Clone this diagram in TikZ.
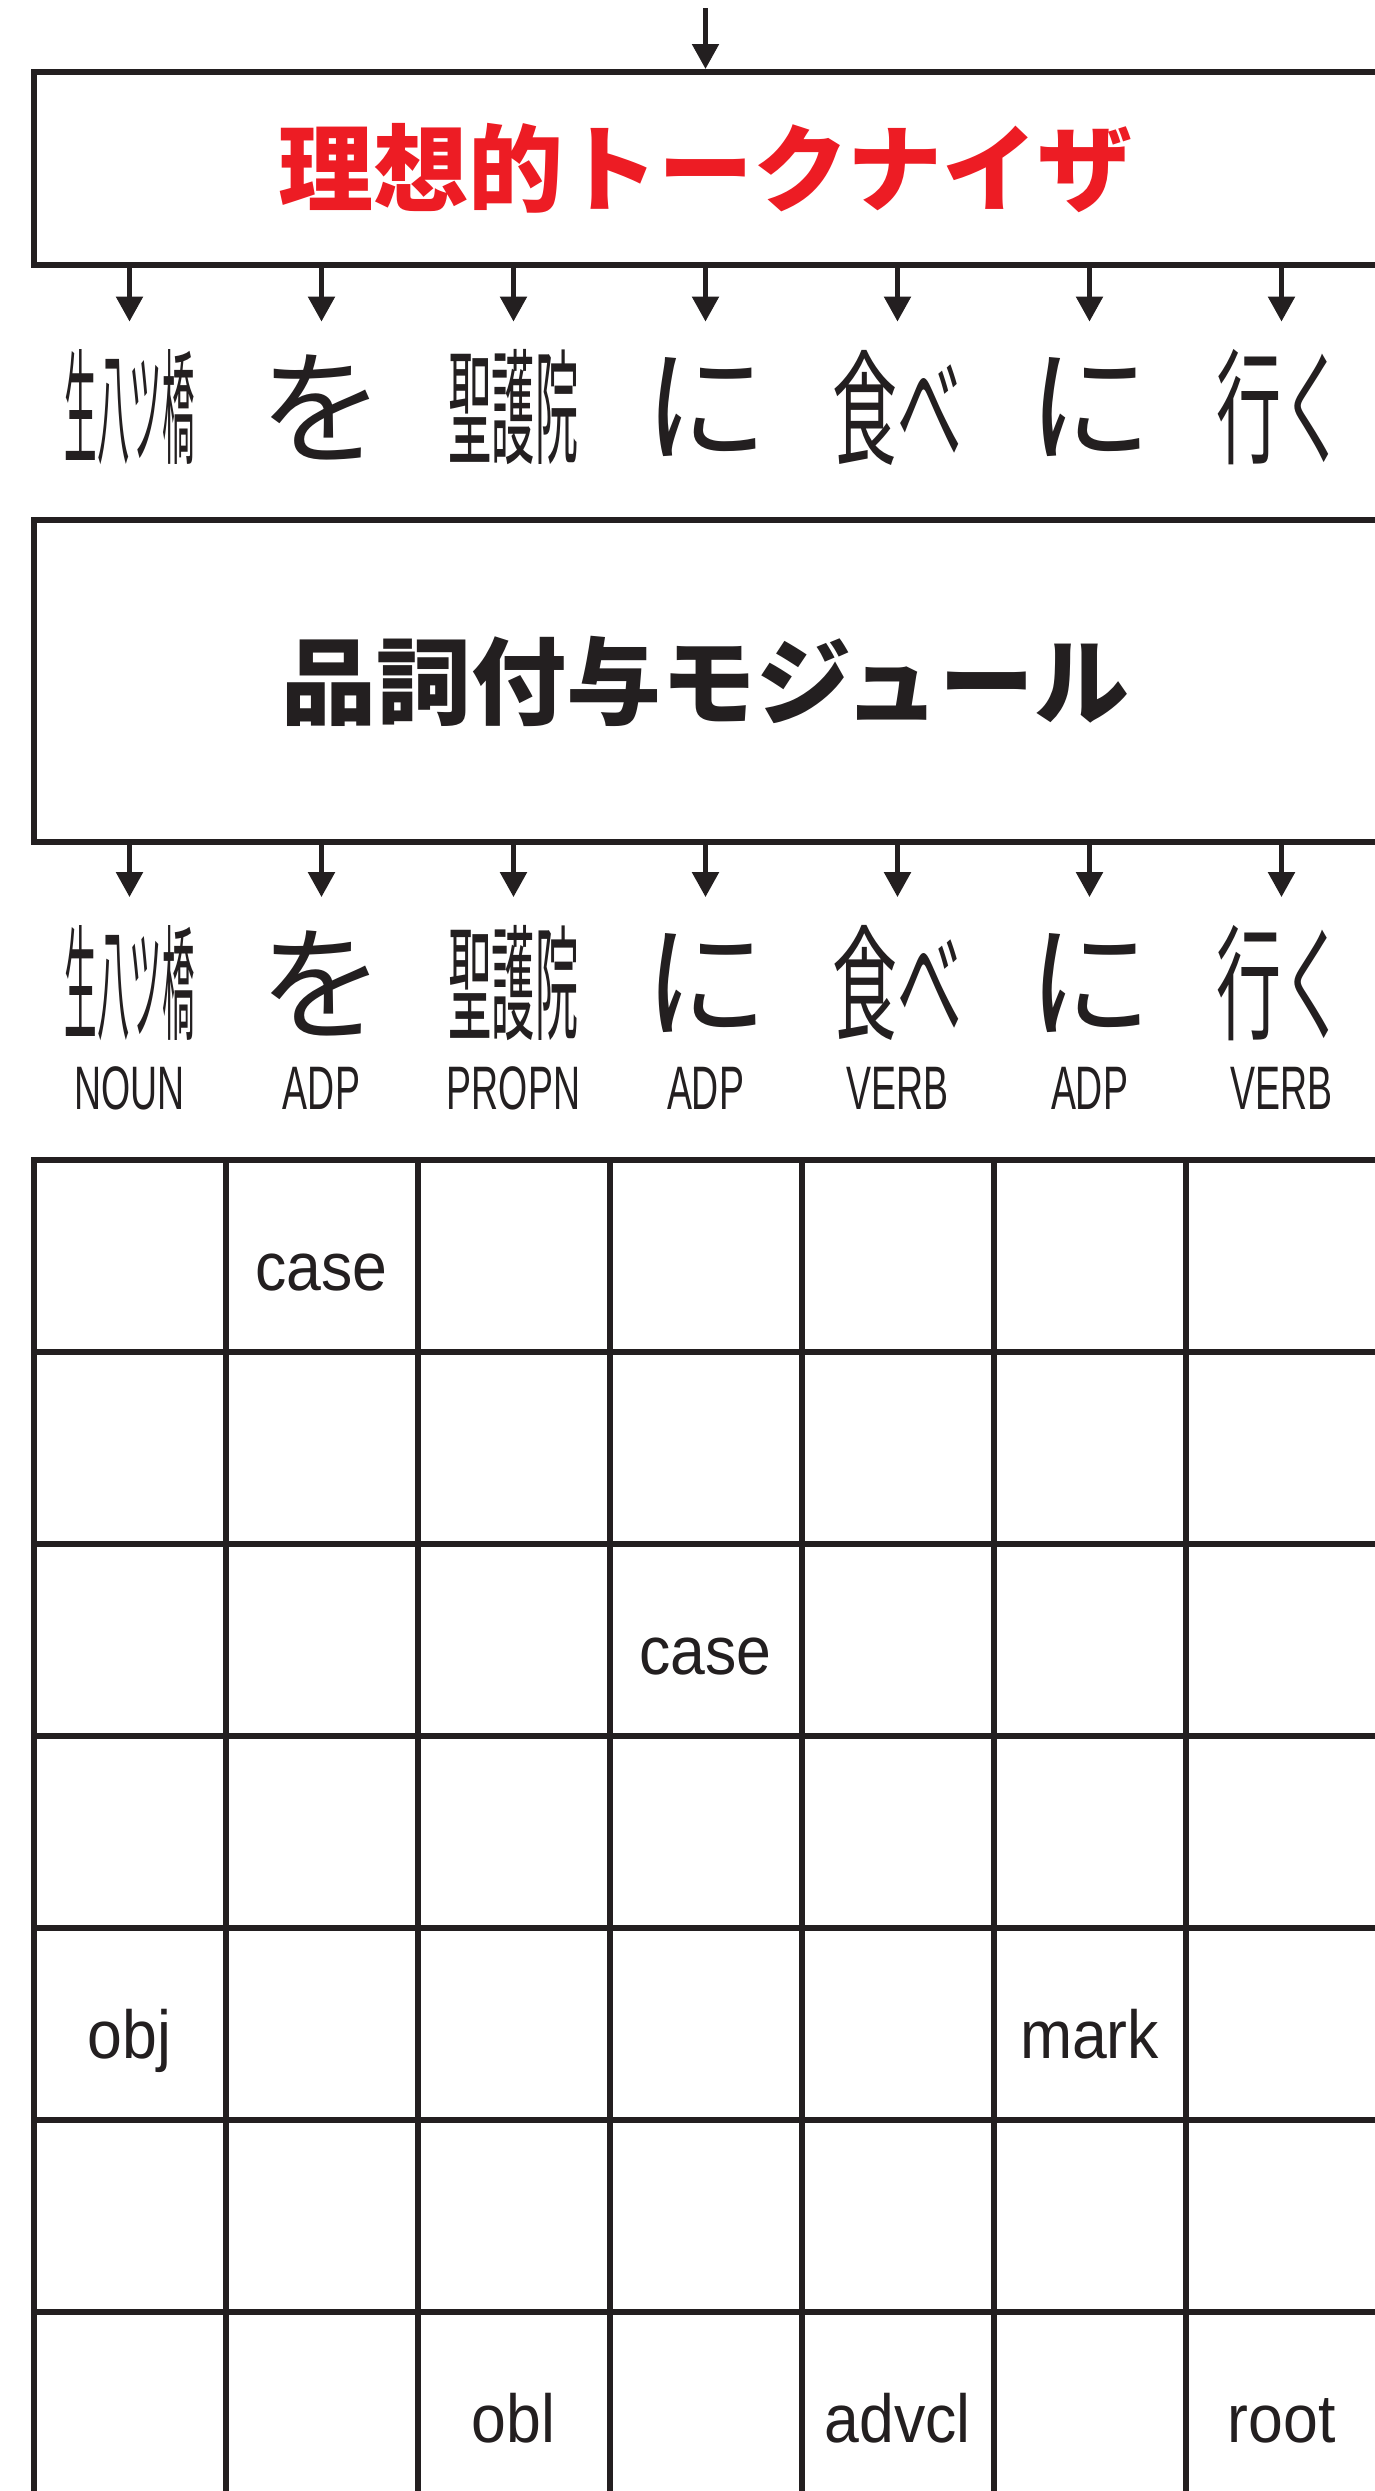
\documentclass[tikz,border=0pt]{standalone}
\usepackage{fontspec}
\usepackage{graphicx}
\usetikzlibrary{arrows.meta}
\setmainfont{Liberation Sans}
\newfontfamily\cjk{Noto Sans CJK JP}
\definecolor{ink}{HTML}{231F20}
\definecolor{titlered}{HTML}{ED1C24}
\newcommand{\sq}[1]{\resizebox{65pt}{\height}{#1}}
\begin{document}
\begin{tikzpicture}[x=0.5pt,y=-0.5pt]
\tikzset{
 box/.style={draw=ink, line width=3pt, minimum width=672pt, inner sep=0pt},
 arr/.style={draw=ink, line width=2.6pt, -{Triangle[length=12.5pt,width=13pt]}},
 tokn/.style={inner sep=0pt, minimum height=85.5pt, text=ink, font=\cjk\fontsize{62.5pt}{70pt}\selectfont},
 posn/.style={inner sep=0pt, anchor=base, text=ink, font=\fontsize{30.7pt}{34pt}\selectfont},
 rel/.style={inner sep=0pt, anchor=base, text=ink, font=\fontsize{34pt}{38pt}\selectfont},
 gridline/.style={draw=ink, line width=3pt},
 titletext/.style={font=\cjk\bfseries\fontsize{47.5pt}{50pt}\selectfont}
}
\clip (0,0) rectangle (1375,2491);
\fill[white] (0,0) rectangle (1375,2491);

% top input arrow and tokenizer box
\coordinate (in0) at (705.5,8);
\node[box, minimum height=96.5pt, titletext, text=titlered] (tok) at (705.5,168.5) {理想的トークナイザ};
\draw[arr] (in0) -- (tok.north);

% first token row
\node[tokn] (t1) at (129.5,407.5) {\sq{生八ツ橋}};
\node[tokn] (t2) at (321.5,407.5) {を};
\node[tokn] (t3) at (513.5,407.5) {\sq{聖護院}};
\node[tokn] (t4) at (705.5,407.5) {に};
\node[tokn] (t5) at (897.5,407.5) {\sq{食べ}};
\node[tokn] (t6) at (1089.5,407.5) {に};
\node[tokn] (t7) at (1281.5,407.5) {\sq{行く}};
\foreach \i in {1,...,7} \draw[arr] (tok.south -| t\i) -- (t\i.north);

% POS tagger box
\node[box, minimum height=160.75pt, titletext, text=ink] (pos) at (705.5,681) {品詞付与モジュール};

% second token row
\node[tokn] (u1) at (129.5,983) {\sq{生八ツ橋}};
\node[tokn] (u2) at (321.5,983) {を};
\node[tokn] (u3) at (513.5,983) {\sq{聖護院}};
\node[tokn] (u4) at (705.5,983) {に};
\node[tokn] (u5) at (897.5,983) {\sq{食べ}};
\node[tokn] (u6) at (1089.5,983) {に};
\node[tokn] (u7) at (1281.5,983) {\sq{行く}};
\foreach \i in {1,...,7} \draw[arr] (pos.south -| u\i) -- (u\i.north);

% POS labels
\node[posn] (p1) at (129.5,1109) {\scalebox{0.61}[1]{NOUN}};
\node[posn] (p2) at (321.5,1109) {\scalebox{0.61}[1]{ADP}};
\node[posn] (p3) at (513.5,1109) {\scalebox{0.61}[1]{PROPN}};
\node[posn] (p4) at (705.5,1109) {\scalebox{0.61}[1]{ADP}};
\node[posn] (p5) at (897.5,1109) {\scalebox{0.61}[1]{VERB}};
\node[posn] (p6) at (1089.5,1109) {\scalebox{0.61}[1]{ADP}};
\node[posn] (p7) at (1281.5,1109) {\scalebox{0.61}[1]{VERB}};

% dependency grid
\foreach \r in {1,...,6} \draw[gridline] (33.5,1160+192*\r) -- (1420,1160+192*\r);
\foreach \c in {1,...,7} \draw[gridline] (33.5+192*\c,1160) -- (33.5+192*\c,2520);
\draw[gridline] (1420,1160) -- (33.5,1160) -- (33.5,2520);

% relation labels
\node[rel] (r12) at (321.5,1290) {\scalebox{0.92}[1]{case}};
\node[rel] (r34) at (705.5,1674) {\scalebox{0.92}[1]{case}};
\node[rel] (r51) at (129.5,2058) {\scalebox{0.92}[1]{obj}};
\node[rel] (r56) at (1089.5,2058) {\scalebox{0.92}[1]{mark}};
\node[rel] (r73) at (513.5,2442) {\scalebox{0.92}[1]{obl}};
\node[rel] (r75) at (897.5,2442) {\scalebox{0.92}[1]{advcl}};
\node[rel] (r77) at (1281.5,2442) {\scalebox{0.92}[1]{root}};
\end{tikzpicture}
\end{document}
